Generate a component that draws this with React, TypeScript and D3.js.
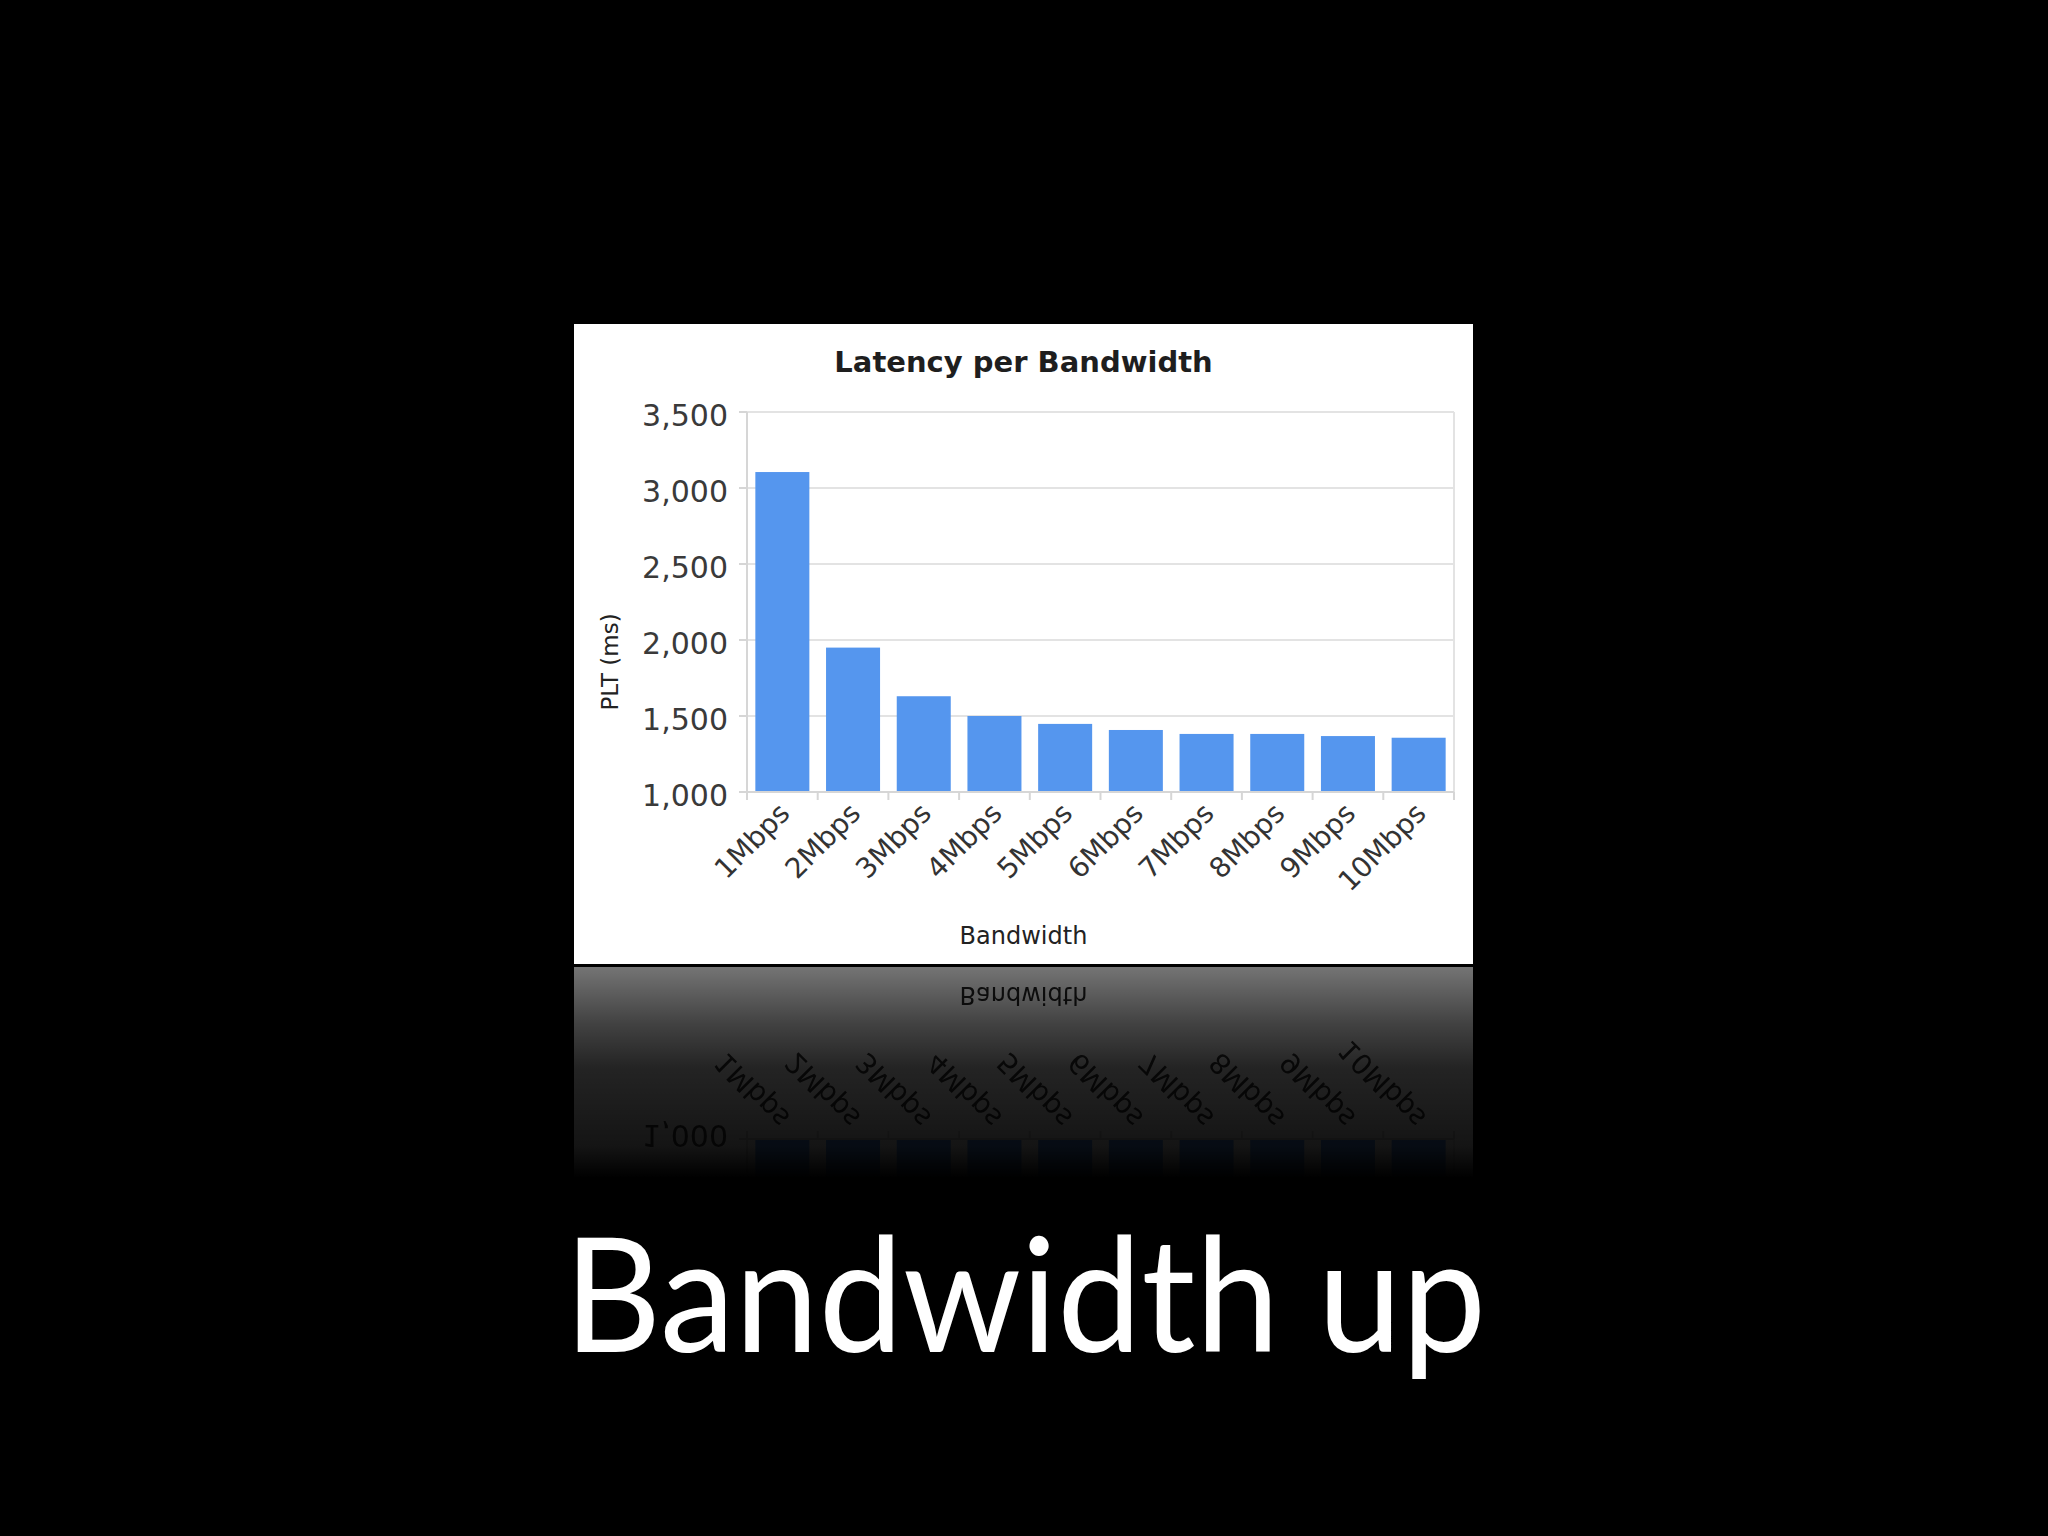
import React from "react";
import * as d3 from "d3";

// ---- data ----
const categories = ["1Mbps", "2Mbps", "3Mbps", "4Mbps", "5Mbps", "6Mbps", "7Mbps", "8Mbps", "9Mbps", "10Mbps"];
const latency = [3105, 1950, 1630, 1500, 1448, 1408, 1382, 1382, 1368, 1357];
const yTicks = [1000, 1500, 2000, 2500, 3000, 3500];
const chartTitle = "Latency per Bandwidth";
const xTitle = "Bandwidth";
const yTitle = "PLT (ms)";
const slideTitle = "Bandwidth up";

const W = 2048;
const H = 1536;
const panel = { x: 574, y: 324, w: 899, h: 640 };
const plot = { left: 747, right: 1454, top: 412, bottom: 792 };
const mirrorY = 965;
const CHART_FONT = "'DejaVu Sans', sans-serif";

const x = d3
  .scaleBand<string>()
  .domain(categories)
  .range([plot.left, plot.right])
  .paddingInner(0.236)
  .paddingOuter(0.118);
const y = d3.scaleLinear().domain([1000, 3500]).range([plot.bottom, plot.top]);
const fmt = d3.format(",");

function Chart() {
  const step = x.step();
  const boundaries = d3.range(categories.length + 1).map((i) => plot.left + i * step);
  return (
    <g>
      <rect x={panel.x} y={panel.y} width={panel.w} height={panel.h} fill="#ffffff" />
      <text
        x={panel.x + panel.w / 2}
        y={372}
        textAnchor="middle"
        fontFamily={CHART_FONT}
        fontWeight={600}
        fontSize={29}
        fill="#1e1e1e"
      >
        {chartTitle}
      </text>
      {/* gridlines */}
      {yTicks.map((t) => (
        <line key={"g" + t} x1={plot.left} x2={plot.right} y1={y(t)} y2={y(t)} stroke="#e3e3e3" strokeWidth={2} />
      ))}
      <line x1={plot.right} x2={plot.right} y1={plot.top} y2={plot.bottom} stroke="#e3e3e3" strokeWidth={2} />
      {/* y ticks & labels */}
      {yTicks.map((t) => (
        <g key={"y" + t}>
          <line x1={plot.left - 8} x2={plot.left} y1={y(t)} y2={y(t)} stroke="#d6d6d6" strokeWidth={2} />
          <text
            x={728}
            y={y(t) + 14}
            textAnchor="end"
            fontFamily={CHART_FONT}
            fontSize={30}
            fill="#3a3a3a"
          >
            {fmt(t)}
          </text>
        </g>
      ))}
      {/* bars */}
      {categories.map((c, i) => (
        <rect
          key={"b" + c}
          x={x(c)}
          y={y(latency[i])}
          width={x.bandwidth()}
          height={y(1000) - y(latency[i])}
          fill="#5596ee"
        />
      ))}
      {/* axes */}
      <line x1={plot.left} x2={plot.left} y1={plot.top} y2={plot.bottom + 1} stroke="#d6d6d6" strokeWidth={2} />
      <line x1={plot.left} x2={plot.right} y1={plot.bottom} y2={plot.bottom} stroke="#d6d6d6" strokeWidth={2} />
      {boundaries.map((bx, i) => (
        <line key={"t" + i} x1={bx} x2={bx} y1={plot.bottom} y2={plot.bottom + 8} stroke="#d6d6d6" strokeWidth={2} />
      ))}
      {/* x labels */}
      {categories.map((c) => {
        const cx = (x(c) as number) + x.bandwidth() / 2 + 9;
        const cy = 815;
        return (
          <text
            key={"l" + c}
            transform={`translate(${cx},${cy}) rotate(-45)`}
            textAnchor="end"
            fontFamily={CHART_FONT}
            fontSize={28}
            fill="#333333"
          >
            {c}
          </text>
        );
      })}
      <text
        x={panel.x + panel.w / 2}
        y={944}
        textAnchor="middle"
        fontFamily={CHART_FONT}
        fontSize={24}
        fill="#222222"
      >
        {xTitle}
      </text>
      <text
        transform={`translate(618,662) rotate(-90)`}
        textAnchor="middle"
        fontFamily={CHART_FONT}
        fontSize={23}
        fill="#222222"
      >
        {yTitle}
      </text>
    </g>
  );
}

export default function App() {
  return (
    <svg
      width={W}
      height={H}
      viewBox={`0 0 ${W} ${H}`}
      style={{ position: "absolute", left: 0, top: 0, display: "block" }}
    >
      <defs>
        <linearGradient id="reflGrad" gradientUnits="userSpaceOnUse" x1={0} y1={mirrorY + 1} x2={0} y2={1178}>
          <stop offset="0" stopColor="#fff" stopOpacity={0.46} />
          <stop offset="0.27" stopColor="#fff" stopOpacity={0.26} />
          <stop offset="0.48" stopColor="#fff" stopOpacity={0.14} />
          <stop offset="0.85" stopColor="#fff" stopOpacity={0.08} />
          <stop offset="1" stopColor="#fff" stopOpacity={0} />
        </linearGradient>
        <mask id="reflMask" maskUnits="userSpaceOnUse" x={0} y={mirrorY + 1} width={W} height={260}>
          <rect x={0} y={mirrorY + 1} width={W} height={260} fill="url(#reflGrad)" />
        </mask>
      </defs>
      <rect x={0} y={0} width={W} height={H} fill="#000000" />
      <Chart />
      <g mask="url(#reflMask)">
        <g transform={`translate(0,${2 * mirrorY + 1}) scale(1,-1)`}>
          <Chart />
        </g>
      </g>
      <text
        x={1025}
        y={1352}
        textAnchor="middle"
        fontFamily="Lato, sans-serif"
        fontSize={160}
        textLength={922}
        lengthAdjust="spacingAndGlyphs"
        fill="#ffffff"
      >
        {slideTitle}
      </text>
    </svg>
  );
}
